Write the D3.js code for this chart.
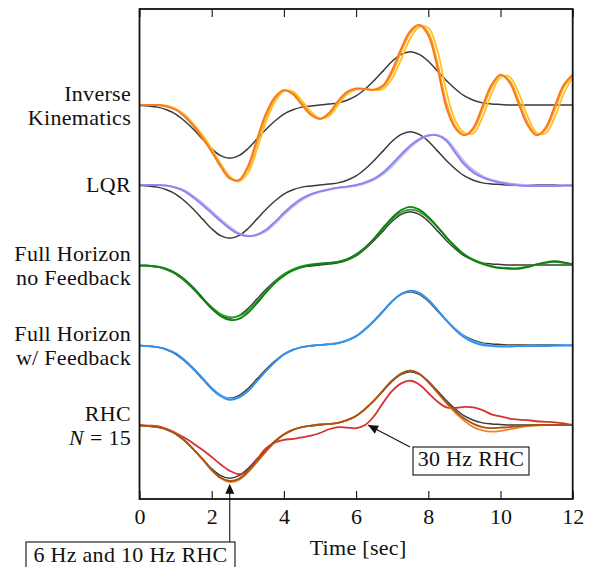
<!DOCTYPE html>
<html>
<head>
<meta charset="utf-8">
<script src="https://cdn.jsdelivr.net/npm/d3@7"></script>
<style>
	html, body { margin: 0; padding: 0; background: #fff; }
	svg { display: block; }
</style>
</head>
<body>
<div id="chart"></div>
<script>

// time grid, seconds
const time = [0, 0.25, 0.5, 0.75, 1, 1.25, 1.5, 1.75, 2, 2.25, 2.5, 2.75, 3, 3.25, 3.5, 3.75,
	4, 4.25, 4.5, 4.75, 5, 5.25, 5.5, 5.75, 6, 6.25, 6.5, 6.75, 7, 7.25, 7.5, 7.75,
	8, 8.25, 8.5, 8.75, 9, 9.25, 9.5, 9.75, 10, 10.25, 10.5, 10.75, 11, 11.25, 11.5, 11.75, 12];

const xTicks = [0, 2, 4, 6, 8, 10, 12];

// desired trajectory (black), same in every row
const reference = [-0.01, -0.02, -0.04, -0.09, -0.17, -0.3, -0.46, -0.64, -0.82, -0.95, -1, -0.95, -0.82, -0.64, -0.46, -0.3,
	-0.17, -0.09, -0.04, -0.02, 0, 0.02, 0.04, 0.09, 0.17, 0.3, 0.46, 0.64, 0.82, 0.95, 1, 0.95,
	0.82, 0.64, 0.46, 0.3, 0.17, 0.09, 0.04, 0.02, 0.01, 0, 0, 0, 0, 0, 0, 0, 0];

// inverse kinematics
const ikYellow = [0, 0, 0, -0.01, -0.07, -0.18, -0.36, -0.57, -0.82, -1.1, -1.34, -1.43, -1.28, -0.84, -0.32, 0.06,
	0.26, 0.25, 0.08, -0.13, -0.25, -0.21, 0, 0.2, 0.29, 0.3, 0.28, 0.3, 0.5, 0.86, 1.25, 1.46,
	1.45, 1.03, 0.26, -0.3, -0.52, -0.53, -0.23, 0.21, 0.52, 0.53, 0.23, -0.21, -0.52, -0.53, -0.23, 0.21, 0.52];
const ikOrange = [0, 0, 0, -0.02, -0.08, -0.2, -0.38, -0.6, -0.85, -1.13, -1.36, -1.42, -1.2, -0.72, -0.22, 0.12,
	0.27, 0.22, 0.03, -0.17, -0.26, -0.17, 0.05, 0.23, 0.3, 0.3, 0.28, 0.34, 0.6, 1.0, 1.35, 1.5,
	1.36, 0.8, 0.04, -0.4, -0.56, -0.46, -0.09, 0.33, 0.56, 0.46, 0.09, -0.33, -0.56, -0.46, -0.09, 0.33, 0.56];
const ikDark = [0, 0, 0, -0.03, -0.09, -0.22, -0.4, -0.63, -0.88, -1.16, -1.38, -1.41, -1.15, -0.65, -0.16, 0.15,
	0.28, 0.2, 0, -0.19, -0.26, -0.15, 0.08, 0.25, 0.31, 0.3, 0.29, 0.37, 0.66, 1.06, 1.39, 1.5,
	1.3, 0.7, -0.05, -0.44, -0.57, -0.42, -0.02, 0.38, 0.57, 0.42, 0.02, -0.38, -0.57, -0.42, -0.02, 0.38, 0.57];

// LQR
const lqrLight = [0, 0, 0, -0.01, -0.04, -0.1, -0.21, -0.34, -0.49, -0.64, -0.78, -0.9, -0.95, -0.94, -0.87, -0.73,
	-0.56, -0.41, -0.28, -0.19, -0.13, -0.09, -0.06, -0.04, -0.01, 0.03, 0.1, 0.2, 0.35, 0.53, 0.7, 0.84,
	0.92, 0.94, 0.86, 0.66, 0.44, 0.28, 0.17, 0.1, 0.06, 0.03, 0.01, 0, -0.01, -0.01, -0.01, 0, 0];
const lqrLavender = [0, 0, 0, -0.01, -0.05, -0.11, -0.23, -0.36, -0.51, -0.66, -0.8, -0.91, -0.96, -0.94, -0.86, -0.71,
	-0.54, -0.39, -0.27, -0.18, -0.12, -0.08, -0.05, -0.03, -0.01, 0.04, 0.11, 0.22, 0.38, 0.56, 0.72, 0.85,
	0.93, 0.93, 0.85, 0.63, 0.41, 0.26, 0.16, 0.09, 0.05, 0.02, 0, -0.01, -0.02, -0.02, -0.02, -0.01, -0.01];
const lqrPurple = [0, 0, 0, -0.01, -0.05, -0.12, -0.24, -0.38, -0.53, -0.68, -0.82, -0.92, -0.96, -0.93, -0.84, -0.69,
	-0.52, -0.37, -0.25, -0.17, -0.12, -0.08, -0.05, -0.03, 0, 0.05, 0.12, 0.24, 0.4, 0.58, 0.74, 0.86,
	0.93, 0.93, 0.83, 0.6, 0.38, 0.23, 0.14, 0.08, 0.04, 0.01, -0.01, -0.02, -0.02, -0.02, -0.02, -0.01, -0.01];

// full horizon, no feedback
const fhGreenDark = [-0.01, -0.01, -0.03, -0.07, -0.15, -0.27, -0.43, -0.62, -0.81, -0.96, -1.03, -1.01, -0.9, -0.72, -0.52, -0.34,
	-0.2, -0.1, -0.04, 0, 0.02, 0.04, 0.06, 0.11, 0.2, 0.33, 0.5, 0.7, 0.89, 1.03, 1.09, 1.04,
	0.9, 0.72, 0.52, 0.34, 0.19, 0.09, 0.02, -0.03, -0.06, -0.07, -0.07, -0.04, 0.01, 0.05, 0.07, 0.05, 0.01];
const fhGreen = [-0.01, -0.01, -0.03, -0.08, -0.16, -0.28, -0.44, -0.62, -0.79, -0.92, -0.98, -0.96, -0.86, -0.69, -0.5, -0.32,
	-0.18, -0.08, -0.02, 0.01, 0.03, 0.04, 0.06, 0.1, 0.19, 0.32, 0.49, 0.68, 0.86, 0.99, 1.04, 1.0,
	0.88, 0.71, 0.52, 0.35, 0.2, 0.1, 0.03, -0.02, -0.05, -0.06, -0.06, -0.03, 0.01, 0.04, 0.06, 0.04, 0.01];

// full horizon, with feedback
const fbBlue = [-0.01, -0.02, -0.04, -0.08, -0.16, -0.29, -0.45, -0.63, -0.82, -0.96, -1.03, -0.99, -0.87, -0.68, -0.49, -0.32,
	-0.18, -0.09, -0.04, -0.01, 0, 0.01, 0.03, 0.08, 0.16, 0.29, 0.45, 0.63, 0.82, 0.96, 1.02, 0.98,
	0.85, 0.66, 0.46, 0.28, 0.14, 0.05, 0, -0.02, -0.03, -0.03, -0.02, -0.02, -0.02, -0.02, -0.01, -0.01, -0.01];
const fbLight = [-0.01, -0.02, -0.04, -0.08, -0.15, -0.28, -0.44, -0.62, -0.8, -0.94, -1.01, -0.98, -0.86, -0.68, -0.49, -0.32,
	-0.18, -0.09, -0.04, -0.01, 0, 0.02, 0.04, 0.09, 0.17, 0.3, 0.46, 0.64, 0.82, 0.95, 1.01, 0.97,
	0.84, 0.66, 0.47, 0.3, 0.16, 0.07, 0.02, -0.01, -0.02, -0.02, -0.02, -0.01, -0.01, -0.01, -0.01, 0, 0];

// receding horizon, N = 15
const rhcBrown = [-0.01, -0.02, -0.04, -0.08, -0.16, -0.29, -0.46, -0.64, -0.84, -0.99, -1.05, -1.01, -0.87, -0.68, -0.49, -0.31,
	-0.18, -0.09, -0.04, -0.01, 0.01, 0.02, 0.04, 0.09, 0.17, 0.3, 0.46, 0.65, 0.83, 0.96, 1.02, 0.96,
	0.81, 0.62, 0.43, 0.26, 0.12, 0.02, -0.04, -0.06, -0.05, -0.04, -0.02, -0.01, 0, 0, 0, 0, 0];
const rhcOrange = [-0.01, -0.02, -0.04, -0.08, -0.16, -0.29, -0.46, -0.65, -0.85, -1.0, -1.07, -1.03, -0.89, -0.7, -0.5, -0.32,
	-0.18, -0.09, -0.04, -0.01, 0.01, 0.02, 0.04, 0.09, 0.17, 0.3, 0.46, 0.65, 0.84, 0.97, 1.02, 0.96,
	0.8, 0.61, 0.41, 0.23, 0.08, -0.04, -0.1, -0.125, -0.11, -0.08, -0.05, -0.02, -0.01, 0, 0, 0, 0];
const rhcRed = [0, -0.01, -0.02, -0.07, -0.15, -0.24, -0.35, -0.47, -0.6, -0.74, -0.86, -0.92, -0.86, -0.65, -0.44, -0.33,
	-0.28, -0.26, -0.23, -0.2, -0.15, -0.08, -0.04, -0.05, -0.06, 0, 0.17, 0.42, 0.64, 0.78, 0.83, 0.76,
	0.6, 0.44, 0.33, 0.32, 0.34, 0.33, 0.28, 0.2, 0.16, 0.12, 0.1, 0.09, 0.07, 0.06, 0.05, 0.03, 0];

const W = 593, H = 567;
const plot = { left: 139.5, right: 572.7, top: 9, bottom: 499 };
const font = "'Liberation Serif', 'Times New Roman', serif";
const fontSize = 22;

const x = d3.scaleLinear().domain([0, 12]).range([plot.left, plot.right]);
const y = d3.scaleLinear().domain([-1.3875, 7.8]).range([plot.bottom, plot.top]);

const rows = [
	{ label: ['Inverse', 'Kinematics'], offset: 6, series: [[ikYellow, '#ffc21f'], [ikOrange, '#ff9d24'], [ikDark, '#f57b22']] },
	{ label: ['LQR'], offset: 4.5, series: [[lqrLight, '#a9ccf8'], [lqrLavender, '#b8a9f3'], [lqrPurple, '#9b7ded']] },
	{ label: ['Full Horizon', 'no Feedback'], offset: 3, series: [[fhGreen, '#2aa52a'], [fhGreenDark, '#0b820b']] },
	{ label: ['Full Horizon', 'w/ Feedback'], offset: 1.5, series: [[fbLight, '#5ab4f8'], [fbBlue, '#3490ea']] },
	{ label: ['RHC', 'N'], offset: 0, series: [[rhcRed, '#d8322f'], [rhcOrange, '#f0832c'], [rhcBrown, '#a9540f']] },
];

const svg = d3.select('#chart').append('svg')
	.attr('width', W)
	.attr('height', H);

const addText = (parent) => parent.append('text')
	.attr('font-family', font)
	.attr('font-size', fontSize)
	.attr('letter-spacing', 0.3)
	.attr('fill', '#111');

const lines = svg.append('g');

rows.forEach(row => {
	const line = d3.line()
		.x((d, i) => x(time[i]))
		.y(d => y(row.offset + d))
		.curve(d3.curveCatmullRom.alpha(0.5));

	lines.append('path')
		.attr('d', line(reference))
		.attr('fill', 'none')
		.attr('stroke', '#3a3a3a')
		.attr('stroke-width', 1.5);

	row.series.forEach(([vals, color]) => {
		lines.append('path')
			.attr('d', line(vals))
			.attr('fill', 'none')
			.attr('stroke', color)
			.attr('stroke-width', 1.8)
			.attr('stroke-linejoin', 'round');
	});

	// row labels, right aligned against the frame
	const yb = y(row.offset);
	const lab = addText(svg).attr('text-anchor', 'end');
	if (row.label.length === 1) {
		lab.append('tspan').attr('x', 131).attr('y', yb + 6.7).text(row.label[0]);
	} else {
		lab.append('tspan').attr('x', 131).attr('y', yb - 4.3).text(row.label[0]);
		if (row.label[1] === 'N') {
			const t = lab.append('tspan').attr('x', 131).attr('y', yb + 20);
			t.append('tspan').attr('font-style', 'italic').text('N');
			t.append('tspan').text(' = 15');
		} else {
			lab.append('tspan').attr('x', 131).attr('y', yb + 20).text(row.label[1]);
		}
	}
});

// frame
svg.append('rect')
	.attr('x', plot.left)
	.attr('y', plot.top)
	.attr('width', plot.right - plot.left)
	.attr('height', plot.bottom - plot.top)
	.attr('fill', 'none')
	.attr('stroke', '#111')
	.attr('stroke-width', 1.8);

const bottomAxis = svg.append('g')
	.attr('transform', `translate(0,${plot.bottom})`)
	.call(d3.axisBottom(x).tickValues(xTicks).tickSizeInner(-8).tickSizeOuter(0).tickPadding(9));
bottomAxis.select('.domain').remove();
bottomAxis.selectAll('line').attr('stroke', '#111').attr('stroke-width', 1.1);
bottomAxis.attr('font-family', font).attr('font-size', fontSize);
bottomAxis.selectAll('text').attr('fill', '#111');

const topAxis = svg.append('g')
	.attr('transform', `translate(0,${plot.top})`)
	.call(d3.axisTop(x).tickValues(xTicks).tickSizeInner(-8).tickSizeOuter(0).tickFormat(''));
topAxis.select('.domain').remove();
topAxis.selectAll('line').attr('stroke', '#111').attr('stroke-width', 1.1);

addText(svg)
	.attr('x', (plot.left + plot.right) / 2 + 2)
	.attr('y', 555)
	.attr('text-anchor', 'middle')
	.text('Time [sec]');

// annotations
const arrowHead = (tip, from, len, half) => {
	const dx = tip[0] - from[0], dy = tip[1] - from[1];
	const n = Math.hypot(dx, dy), ux = dx / n, uy = dy / n;
	const bx = tip[0] - ux * len, by = tip[1] - uy * len;
	return `M${tip[0]},${tip[1]}L${bx - uy * half},${by + ux * half}L${bx + uy * half},${by - ux * half}Z`;
};

// 30 Hz RHC
const tip30 = [x(6.33), y(0)];
const tail30 = [410, 447];
svg.append('line')
	.attr('x1', tail30[0]).attr('y1', tail30[1])
	.attr('x2', tip30[0]).attr('y2', tip30[1])
	.attr('stroke', '#111').attr('stroke-width', 1.1);
svg.append('path').attr('d', arrowHead(tip30, tail30, 10, 4.5)).attr('fill', '#111');
svg.append('rect')
	.attr('x', 413).attr('y', 447).attr('width', 116).attr('height', 28)
	.attr('fill', '#fff').attr('stroke', '#111').attr('stroke-width', 1.1);
addText(svg)
	.attr('x', 471).attr('y', 466)
	.attr('text-anchor', 'middle')
	.text('30 Hz RHC');

// 6 Hz and 10 Hz RHC
const tipLow = [x(2.5), y(-1.1)];
const tailLow = [x(2.5), 542];
svg.append('line')
	.attr('x1', tailLow[0]).attr('y1', tailLow[1])
	.attr('x2', tipLow[0]).attr('y2', tipLow[1] + 6)
	.attr('stroke', '#111').attr('stroke-width', 1.1);
svg.append('path').attr('d', arrowHead(tipLow, tailLow, 10, 4.5)).attr('fill', '#111');
svg.append('rect')
	.attr('x', 26).attr('y', 542).attr('width', 209).attr('height', 32)
	.attr('fill', '#fff').attr('stroke', '#111').attr('stroke-width', 1.1);
addText(svg)
	.attr('x', 130.5).attr('y', 561.5)
	.attr('text-anchor', 'middle')
	.text('6 Hz and 10 Hz RHC');

</script>
</body>
</html>
